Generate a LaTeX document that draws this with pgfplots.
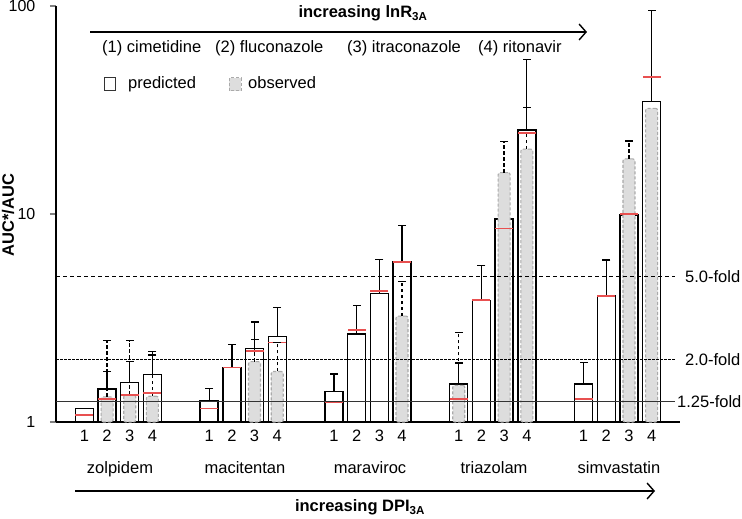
\documentclass[border=0pt]{standalone}
\usepackage{pgfplots}
\pgfplotsset{compat=1.18}
\usepackage{fontspec}
\setmainfont{Liberation Sans}
\usetikzlibrary{arrows.meta}
\definecolor{redline}{RGB}{232,80,80}
\definecolor{obsfill}{RGB}{221,221,221}
\definecolor{obsdraw}{RGB}{170,170,170}
\begin{document}
\fontsize{16.5}{19}\selectfont
\begin{tikzpicture}
\useasboundingbox (0pt,0pt) rectangle (742pt,519pt);
\begin{axis}[
  at={(56pt,97pt)}, anchor=south west,
  scale only axis, width=624pt, height=416pt,
  ymode=log, ymin=1, ymax=100,
  xmin=-2.75, xmax=24.75,
  axis lines*=left,
  axis line style={line width=1.3pt},
  clip=false,
  major tick length=6pt,
  ytick={1,10,100}, yticklabels={1,10,100},
  yminorticks=false,
  ytick align=outside,
  xtick align=inside,
  y tick style={line width=1.3pt},
  xtick={-1.5,-0.5,0.5,1.5, 4,5,6,7, 9.5,10.5,11.5,12.5, 15,16,17,18, 20.5,21.5,22.5,23.5},
  xticklabels={1,2,3,4,1,2,3,4,1,2,3,4,1,2,3,4,1,2,3,4},
  x tick style={draw=none},
  extra x ticks={2.75,8.25,13.75,19.25,24.75},
  extra x tick labels={},
  extra x tick style={tick style={draw=black, line width=1.3pt}},
  xticklabel style={font=\fontsize{16.5}{19}\selectfont, yshift=-2pt},
  yticklabel style={font=\fontsize{16}{19}\selectfont, xshift=-9pt},
  /pgf/number format/assume math mode=true,
  unbounded coords=jump,
]
% predicted bars
\addplot[ybar, bar width=18pt, bar shift=0pt, fill=white, draw=black, line width=1.4pt] coordinates {
(-1.5,1.16) (-0.5,1.44) (0.5,1.55) (1.5,1.69)
(4,1.26) (5,1.83) (6,2.25) (7,2.57)
(9.5,1.40) (10.5,2.65) (11.5,4.16) (12.5,5.88)
(15,1.52) (16,3.85) (17,9.46) (18,25.3)
(20.5,1.52) (21.5,4.03) (22.5,9.89) (23.5,34.7)
};
% observed bars
\addplot[ybar, bar width=12pt, bar shift=0pt, fill=obsfill, draw=obsdraw, line width=1.1pt, dash pattern=on 3pt off 2pt, rounded corners=2pt] coordinates {
(-0.5,1.32) (0.5,1.35) (1.5,1.33)
(6,1.95) (7,1.75)
(12.5,3.23)
(15,1.50) (17,15.8) (18,20.5)
(22.5,18.4) (23.5,32.2)
};
% reference lines
\draw[black!80, line width=1pt] (axis cs:-2.75,1.25) -- (axis cs:24.53,1.25);
\draw[black, line width=0.9pt, dash pattern=on 2.5pt off 1.5pt] (axis cs:-2.75,2) -- (axis cs:24.53,2);
\draw[black, line width=0.9pt, dash pattern=on 4pt off 3pt] (axis cs:-2.75,5) -- (axis cs:24.53,5);
\node[anchor=west, inner sep=0pt] at ([xshift=-3pt]axis cs:24.75,1.25) {1.25-fold};
\node[anchor=west, inner sep=0pt] at ([xshift=5pt]axis cs:24.75,2) {2.0-fold};
\node[anchor=west, inner sep=0pt] at ([xshift=5pt]axis cs:24.75,5) {5.0-fold};
% red lines
\addplot[only marks, mark=-, mark size=9pt, mark options={draw=redline, line width=1.7pt}] coordinates {
(-1.5,1.08) (-0.5,1.29) (0.5,1.35) (1.5,1.38)
(4,1.16) (5,1.83) (6,2.20) (7,2.41)
(9.5,1.24) (10.5,2.77) (11.5,4.25) (12.5,5.88)
(15,1.29) (16,3.85) (17,8.53) (18,24.6)
(20.5,1.29) (21.5,4.03) (22.5,10.0) (23.5,45.7)
};
% observed error bars (dashed)
\addplot[black, line width=1.3pt, dash pattern=on 3.5pt off 2.5pt] coordinates {
(-0.5,1.32) (-0.5,2.46) (-0.5,nan)
(0.5,1.35) (0.5,2.46) (0.5,nan)
(1.5,1.33) (1.5,2.1) (1.5,nan)
(6,1.95) (6,2.50) (6,nan)
(7,1.75) (7,2.41) (7,nan)
(12.5,3.23) (12.5,4.73) (12.5,nan)
(15,1.50) (15,2.70) (15,nan)
(17,15.8) (17,22.3) (17,nan)
(18,20.5) (18,32.4) (18,nan)
(22.5,18.4) (22.5,22.4)
};
\addplot[only marks, mark=-, mark size=4pt, mark options={draw=black, line width=1.3pt}] coordinates {
(-0.5,2.46) (0.5,2.46) (1.5,2.1) (6,2.50) (7,2.41) (12.5,4.73) (15,2.70) (17,22.3) (18,32.4) (22.5,22.4)
};
% predicted error bars (solid)
\addplot[black, line width=1.3pt] coordinates {
(-0.5,1.44) (-0.5,1.75) (-0.5,nan)
(0.5,1.55) (0.5,1.96) (0.5,nan)
(1.5,1.69) (1.5,2.19) (1.5,nan)
(4,1.26) (4,1.45) (4,nan)
(5,1.83) (5,2.36) (5,nan)
(6,2.25) (6,3.03) (6,nan)
(7,2.57) (7,3.56) (7,nan)
(9.5,1.40) (9.5,1.70) (9.5,nan)
(10.5,2.65) (10.5,3.64) (10.5,nan)
(11.5,4.16) (11.5,6.03) (11.5,nan)
(12.5,5.88) (12.5,8.83) (12.5,nan)
(15,1.52) (15,1.92) (15,nan)
(16,3.85) (16,5.64) (16,nan)
(18,25.3) (18,55.4) (18,nan)
(20.5,1.52) (20.5,1.93) (20.5,nan)
(21.5,4.03) (21.5,6.01) (21.5,nan)
(23.5,34.7) (23.5,95)
};
\addplot[only marks, mark=-, mark size=4pt, mark options={draw=black, line width=1.3pt}] coordinates {
(-0.5,1.75) (0.5,1.96) (1.5,2.19) (4,1.45) (5,2.36) (6,3.03) (7,3.56)
(9.5,1.70) (10.5,3.64) (11.5,6.03) (12.5,8.83) (15,1.92) (16,5.64) (18,55.4)
(20.5,1.93) (21.5,6.01) (23.5,95)
};
\end{axis}
% y label
\node[rotate=90, inner sep=0pt, font=\bfseries\fontsize{16.5}{19}\selectfont] at (8pt,304pt) {AUC*/AUC};
% group names
\node[anchor=base] at (120pt,45pt) {zolpidem};
\node[anchor=base] at (245pt,45pt) {macitentan};
\node[anchor=base] at (370pt,45pt) {maraviroc};
\node[anchor=base] at (494pt,45pt) {triazolam};
\node[anchor=base] at (619pt,45pt) {simvastatin};
% bottom arrow
\draw[line width=1.4pt, -{Straight Barb[length=7pt,width=16pt,line width=1.4pt]}] (75pt,28pt) -- (655pt,28pt);
\node[anchor=base, font=\bfseries\fontsize{16.5}{19}\selectfont] at (360pt,7pt) {increasing DPI\textsubscript{3A}};
% top arrow
\draw[line width=1.4pt, -{Straight Barb[length=7pt,width=16pt,line width=1.4pt]}] (90pt,487pt) -- (587pt,487pt);
\node[anchor=base, font=\bfseries\fontsize{16.5}{19}\selectfont] at (363pt,501pt) {increasing lnR\textsubscript{3A}};
% inhibitors
\node[anchor=base west, inner sep=0pt] at (102pt,466pt) {(1) cimetidine};
\node[anchor=base west, inner sep=0pt] at (215pt,466pt) {(2) fluconazole};
\node[anchor=base west, inner sep=0pt] at (347pt,466pt) {(3) itraconazole};
\node[anchor=base west, inner sep=0pt] at (478pt,466pt) {(4) ritonavir};
% legend
\draw[black!80, line width=1pt] (104pt,428pt) rectangle (115pt,441pt);
\node[anchor=base west, inner sep=0pt] at (128pt,430pt) {predicted};
\draw[obsdraw, fill=obsfill, line width=1pt, dash pattern=on 3pt off 2pt] (229pt,428pt) rectangle (241pt,441pt);
\node[anchor=base west, inner sep=0pt] at (248pt,430pt) {observed};
\end{tikzpicture}
\end{document}
